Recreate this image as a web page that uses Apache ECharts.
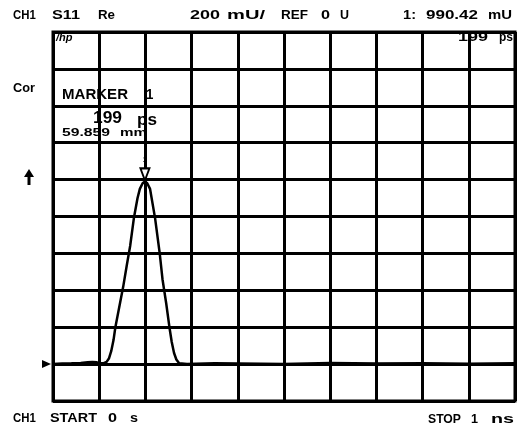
<!DOCTYPE html>
<html>
<head>
<meta charset="utf-8">
<script src="https://cdn.jsdelivr.net/npm/echarts@6/dist/echarts.min.js"></script>
<style>
  html, body { margin: 0; padding: 0; background: #fff; }
  #main { width: 518px; height: 427px; }
</style>
</head>
<body>
<div id="main"></div>
<script>
// time axis (ps), 100 ps / div, 0 .. 1 ns
var timePs = [0, 20, 40, 60, 75, 85, 95, 100, 110, 116, 121, 126, 131, 135, 145, 152, 160, 167, 175, 183, 188, 194, 199,
              204, 210, 221, 231, 237, 245, 252, 257, 262, 267, 273, 290, 350, 400, 500, 600, 700, 800, 900, 1000];
// real part of S11 (U)
var reS11 = [0.0, 0.003, 0.004, 0.006, 0.01, 0.012, 0.01, 0.004, 0.005, 0.012, 0.03, 0.07, 0.13, 0.2, 0.33, 0.42, 0.54, 0.64, 0.79, 0.9, 0.95, 0.98, 0.99,
             0.98, 0.95, 0.79, 0.6, 0.46, 0.33, 0.2, 0.12, 0.06, 0.025, 0.005, 0.0, 0.004, 0.003, 0.0, 0.006, 0.003, 0.005, 0.002, 0.004];
var markerPs = 199;
var markerVal = 0.99042;
var refLevel = 0;

var FONT = 'Liberation Sans';
var pts = [];
for (var i = 0; i < timePs.length; i++) pts.push([timePs[i], reS11[i]]);

// the analyzer font is wide, so every word is stretched to the width it has on screen
var ctx = document.createElement('canvas').getContext('2d');
function word(x0, x1, yc, s, size) {
    var font = 'bold ' + (size || 12) + 'px "' + FONT + '"';
    ctx.font = font;
    var w = ctx.measureText(s).width;
    var sx = Math.max(0.95, (x1 - x0) / w);
    return {
        type: 'text', x: x0, y: yc, scaleX: sx,
        style: { text: s, font: font, fill: '#000', textAlign: 'left', verticalAlign: 'middle', textVerticalAlign: 'middle' }
    };
}

var myChart = echarts.init(document.getElementById('main'));
var option = {
    backgroundColor: '#fff',
    animation: false,
    grid: { left: 53, top: 32, width: 462, height: 369, show: true, borderColor: '#000', borderWidth: 3 },
    xAxis: {
        type: 'value', min: 0, max: 1000, interval: 100,
        axisLine: { show: false }, axisTick: { show: false }, axisLabel: { show: false },
        splitLine: { show: true, lineStyle: { color: '#000', width: 3 } }
    },
    yAxis: {
        type: 'value', min: -0.2, max: 1.8, interval: 0.2,
        axisLine: { show: false }, axisTick: { show: false }, axisLabel: { show: false },
        splitLine: { show: true, lineStyle: { color: '#000', width: 3 } }
    },
    series: [{
        type: 'line',
        data: pts,
        showSymbol: false,
        smooth: false,
        lineStyle: { color: '#000', width: 2.5 },
        markPoint: {
            symbol: 'triangle',
            symbolRotate: 180,
            symbolSize: [9, 12],
            symbolOffset: [0, -7],
            itemStyle: { color: '#fff', borderColor: '#000', borderWidth: 2 },
            label: { show: true, position: 'top', formatter: '1', fontSize: 8, fontWeight: 'bold', color: '#000', distance: 3 },
            data: [{ coord: [markerPs, markerVal] }]
        }
    }],
    graphic: [
        word(13, 34, 16, 'CH1'),
        word(52, 80, 16, 'S11'),
        word(98, 115, 16, 'Re'),
        word(190, 220, 16, '200'),
        word(227, 265, 16, 'mU/'),
        word(281, 308, 16, 'REF'),
        word(321, 330, 16, '0'),
        word(340, 349, 16, 'U'),
        word(403, 416, 16, '1:'),
        word(426, 478, 16, '990.42'),
        word(488, 512, 16, 'mU'),
        { type: 'text', x: 56, y: 38, style: { text: '/hp', font: 'italic bold 11px "' + FONT + '"', fill: '#000', verticalAlign: 'middle', textVerticalAlign: 'middle' } },
        word(458, 488, 38, '199'),
        word(499, 513, 38, 'ps'),
        word(13, 35, 89, 'Cor'),
        word(62, 128, 95, 'MARKER', 14),
        word(146, 151, 95, '1', 14),
        word(93, 122, 119, '199', 16),
        word(137, 157, 121, 'ps', 16),
        word(62, 110, 133, '59.859', 11),
        word(120, 147, 133, 'mm', 11),
        // bold up arrow
        { type: 'polygon', shape: { points: [[29, 169], [24, 177], [34, 177]] }, style: { fill: '#000' } },
        { type: 'rect', shape: { x: 27.5, y: 176, width: 3, height: 9 }, style: { fill: '#000' } },
        word(13, 35, 419, 'CH1'),
        word(50, 97, 419, 'START'),
        word(108, 117, 419, '0'),
        word(130, 138, 419, 's'),
        word(428, 461, 420, 'STOP'),
        word(471, 478, 420, '1'),
        word(491, 514, 420, 'ns')
    ]
};
myChart.setOption(option);

// reference level marker on the left edge
var refPx = myChart.convertToPixel({ gridIndex: 0 }, [0, refLevel]);
myChart.setOption({
    graphic: option.graphic.concat([{
        type: 'polygon',
        shape: { points: [[refPx[0] - 11, refPx[1] - 4], [refPx[0] - 2, refPx[1]], [refPx[0] - 11, refPx[1] + 4]] },
        style: { fill: '#000' }
    }])
});
</script>
</body>
</html>
